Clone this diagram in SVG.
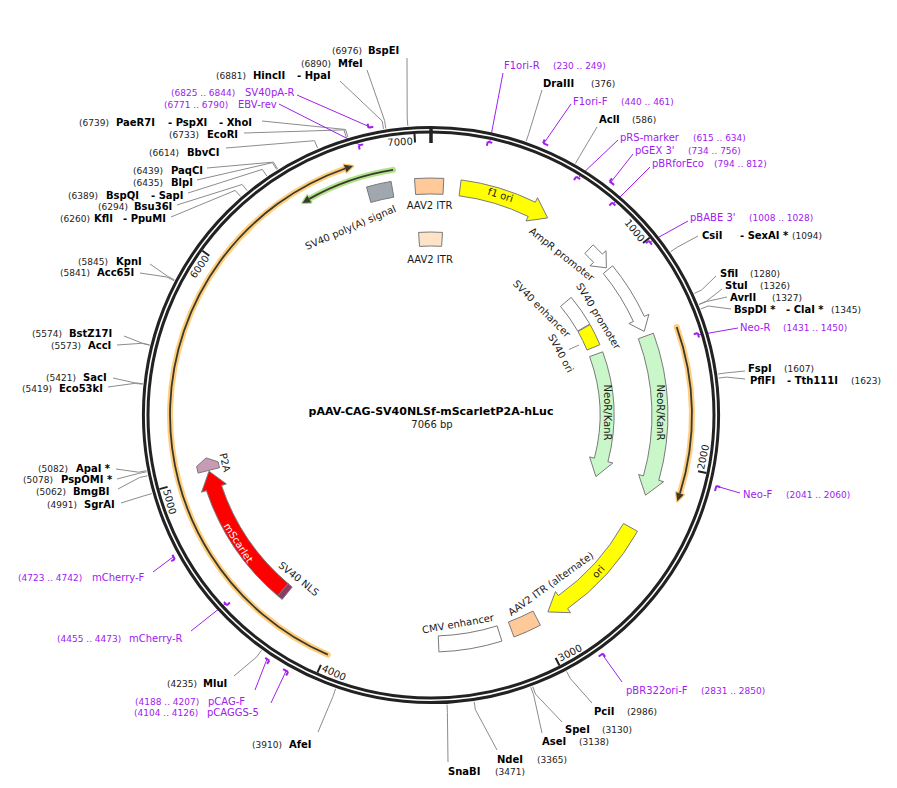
<svg xmlns="http://www.w3.org/2000/svg" width="897" height="788" viewBox="0 0 897 788">
<style>
text{font-family:"DejaVu Sans","Liberation Sans",sans-serif}
.en{font-size:10px;font-weight:bold;fill:#000}
.ps{font-size:9px;fill:#222}
.pr{font-size:10px;fill:#a020f0}
.prp{font-size:9px;fill:#a020f0}
.fl{font-size:10px;fill:#1a1a1a}
.tk{font-size:10px;fill:#1a1a1a}
.ll{fill:none;stroke:#8c8c8c;stroke-width:1}
.pl{fill:none;stroke:#a020f0;stroke-width:1}
.pm{fill:none;stroke:#a020f0;stroke-width:2}
.ft{stroke:#7a7a7a;stroke-width:1}
.glo{fill:none;stroke:#ffc96e;stroke-width:6;stroke-linecap:round;opacity:.9}
.glg{fill:none;stroke:#a8e07e;stroke-width:6;stroke-linecap:round;opacity:.9}
.core{fill:none;stroke:#3d382e;stroke-width:1.8}
</style>
<rect width="897" height="788" fill="#fff"/>
<g id="connectors">
<polyline class="ll" points="407,58 407.2,118 407.8,125.9"/>
<polyline class="ll" points="367,70 384.6,120.6 385.8,128.5"/>
<polyline class="ll" points="340,81 382.2,121 383.5,128.9"/>
<polyline class="ll" points="262,121 345.6,129.5 347.9,137.2"/>
<polyline class="ll" points="244,133 344,129.9 346.3,137.6"/>
<polyline class="ll" points="226,148 314.5,140.7 317.6,148.1"/>
<polyline class="ll" points="207,168 273.4,162.1 277.6,168.9"/>
<polyline class="ll" points="197,180 272.4,162.7 276.7,169.5"/>
<polyline class="ll" points="188,193 262.3,169.4 266.8,176"/>
<polyline class="ll" points="177,205 242.1,184.5 247.2,190.7"/>
<polyline class="ll" points="171,217 235.2,190.4 240.5,196.4"/>
<polyline class="ll" points="150,264 167.3,276.1 174.4,279.8"/>
<polyline class="ll" points="140,273 166.9,277 174,280.7"/>
<polyline class="ll" points="124,336 141.8,343 149.6,344.9"/>
<polyline class="ll" points="117,345 141.7,343.3 149.5,345.2"/>
<polyline class="ll" points="113,378 134.7,382.8 142.7,383.7"/>
<polyline class="ll" points="108,387 134.6,383.4 142.6,384.2"/>
<polyline class="ll" points="116,469 138.6,472.2 146.4,470.7"/>
<polyline class="ll" points="117,479 138.8,473.4 146.6,471.8"/>
<polyline class="ll" points="118,489 139.6,477.5 147.4,475.8"/>
<polyline class="ll" points="121,503 144.1,495.8 151.8,493.6"/>
<polyline class="ll" points="234,676 256.8,656.8 261.5,650.3"/>
<polyline class="ll" points="318,732 333,696.4 335.6,688.8"/>
<polyline class="ll" points="448,762 447.4,712.6 447,704.6"/>
<polyline class="ll" points="497,750 475.4,709.7 474.2,701.8"/>
<polyline class="ll" points="542,733 533.6,694.8 530.8,687.3"/>
<polyline class="ll" points="562,722 535.5,694.1 532.7,686.6"/>
<polyline class="ll" points="592,703 570.3,678.5 566.6,671.4"/>
<polyline class="ll" points="745,379 726.5,377.1 718.6,378.1"/>
<polyline class="ll" points="745,371 726,372.9 718.1,374"/>
<polyline class="ll" points="731,309 708.3,306 700.9,308.9"/>
<polyline class="ll" points="727,297 706.5,301.5 699.1,304.5"/>
<polyline class="ll" points="722,289 706.4,301.2 699,304.3"/>
<polyline class="ll" points="716,276 701.6,290 694.3,293.4"/>
<polyline class="ll" points="698,236 677.3,247.2 670.7,251.7"/>
<polyline class="ll" points="597,127 579.4,156.6 575.4,163.5"/>
<polyline class="ll" points="542,90 528.8,133.5 526.2,141.1"/>
<line class="pl" x1="297" y1="95" x2="370" y2="127"/>
<line class="pl" x1="279" y1="104" x2="360" y2="145"/>
<line class="pl" x1="503" y1="73" x2="490" y2="141"/>
<line class="pl" x1="571" y1="104" x2="544" y2="143"/>
<line class="pl" x1="618" y1="140" x2="579" y2="177"/>
<line class="pl" x1="633" y1="154" x2="611" y2="182"/>
<line class="pl" x1="650" y1="167" x2="614" y2="203"/>
<line class="pl" x1="688" y1="221" x2="650" y2="242"/>
<line class="pl" x1="738" y1="328" x2="698" y2="335"/>
<line class="pl" x1="740" y1="493" x2="716" y2="486"/>
<line class="pl" x1="622" y1="682" x2="602" y2="654"/>
<line class="pl" x1="271" y1="703" x2="286" y2="671"/>
<line class="pl" x1="255" y1="690" x2="267" y2="659"/>
<line class="pl" x1="191" y1="631" x2="225" y2="604"/>
<line class="pl" x1="153" y1="572" x2="173" y2="557"/>
<line class="ll" x1="569" y1="349.5" x2="579" y2="345"/>
</g>
<g id="backbone">
<circle cx="431" cy="415" r="285.3" fill="none" stroke="#222" stroke-width="7.6"/>
<circle cx="431" cy="415" r="285.3" fill="none" stroke="#fff" stroke-width="1.6"/>
<line x1="431" y1="126" x2="431" y2="143" stroke="#222" stroke-width="3.5"/>
<g stroke="#222" stroke-width="2">
<line x1="649.6" y1="237.7" x2="643" y2="243"/>
<line x1="706.4" y1="473" x2="698.1" y2="471.3"/>
<line x1="559.5" y1="665.5" x2="555.6" y2="657.9"/>
<line x1="317.4" y1="672.6" x2="320.9" y2="664.8"/>
<line x1="159.4" y1="489.1" x2="167.6" y2="486.9"/>
<line x1="202.4" y1="250.7" x2="209.3" y2="255.7"/>
<line x1="414.5" y1="134" x2="415" y2="142.5"/>
</g>
<text class="tk" text-anchor="end" transform="translate(640.1,242.6) rotate(50.95)">1000</text>
<text class="tk" transform="translate(704,470.1) rotate(-78.1)">2000</text>
<text class="tk" transform="translate(560.3,661.7) rotate(-27.16)">3000</text>
<text class="tk" transform="translate(320.9,670.8) rotate(23.79)">4000</text>
<text class="tk" transform="translate(163,490.6) rotate(74.74)">5000</text>
<text class="tk" text-anchor="end" transform="translate(209.8,258.4) rotate(-54.31)">6000</text>
<text class="tk" text-anchor="end" transform="translate(413,144.6) rotate(-3.36)">7000</text>
</g>
<g id="primer-marks">
<path class="pm" d="M487.7,141.8 L492.3,142.8 M487.7,141.8 L486.9,145.7"/>
<path class="pm" d="M543.1,143.2 L548.2,145.4 M543.1,143.2 L544.7,139.5"/>
<path class="pm" d="M576.1,176.7 L580.1,179.2 M576.1,176.7 L574,180.1"/>
<path class="pm" d="M609.6,181.4 L614.1,184.9 M609.6,181.4 L612,178.3"/>
<path class="pm" d="M612,202.6 L615.4,205.6 M612,202.6 L609.4,205.7"/>
<path class="pm" d="M648.9,240.8 L651.9,244.6 M648.9,240.8 L645.8,243.3"/>
<path class="pm" d="M697.7,333 L699,337.5 M697.7,333 L693.8,334.2"/>
<path class="pm" d="M716.3,486 L715,490.9 M716.3,486 L720.2,487"/>
<path class="pm" d="M602.9,653.5 L598.7,656.5 M602.9,653.5 L605.2,656.8"/>
<path class="pm" d="M288.1,671.9 L283.1,669.1 M288.1,671.9 L286.1,675.4"/>
<path class="pm" d="M269.3,660.5 L265.2,657.8 M269.3,660.5 L267.1,663.9"/>
<path class="pm" d="M227,605.3 L224,602 M227,605.3 L229.9,602.6"/>
<path class="pm" d="M174.8,559.2 L172.4,554.8 M174.8,559.2 L171.3,561.1"/>
<path class="pm" d="M358.7,145.5 L363.2,144.4 M358.7,145.5 L359.7,149.4"/>
<path class="pm" d="M368.5,127.7 L373.3,126.7 M368.5,127.7 L367.6,123.8"/>
</g>
<g id="orf-left">
<path class="glo" d="M327.8,654.7 A261,261 0 0 1 345.2,168.5"/>
<polygon points="343.8,164.7 353,166 346.5,172.3" fill="#3d382e" stroke="#ffc96e" stroke-width="2.5" stroke-linejoin="round"/>
<path class="core" d="M327.8,654.7 A261,261 0 0 1 345.2,168.5"/>
<polygon points="343.8,164.7 353,166 346.5,172.3" fill="#3d382e"/>
</g>
<g id="orf-right">
<path class="glo" d="M676.7,327 A261,261 0 0 1 679.9,493.5"/>
<polygon points="683.7,494.7 677.3,501.3 676.1,492.3" fill="#3d382e" stroke="#ffc96e" stroke-width="2.5" stroke-linejoin="round"/>
<path class="core" d="M676.7,327 A261,261 0 0 1 679.9,493.5"/>
<polygon points="683.7,494.7 677.3,501.3 676.1,492.3" fill="#3d382e"/>
</g>
<g id="orf-green">
<path class="glg" d="M393.1,169.9 A248,248 0 0 0 309.3,198.9"/>
<polygon points="307.3,195.5 302.5,202.9 311.2,202.4" fill="#3d382e" stroke="#a8e07e" stroke-width="2.5" stroke-linejoin="round"/>
<path class="core" d="M393.1,169.9 A248,248 0 0 0 309.3,198.9"/>
<polygon points="307.3,195.5 302.5,202.9 311.2,202.4" fill="#3d382e"/>
</g>
<g id="sv40-polya">
<path class="ft" fill="#a1a7ae" d="M366.5,187 A237,237 0 0 1 391.1,181.4 L393.8,197.2 A221,221 0 0 0 370.8,202.4 Z"/>
<text class="fl" text-anchor="middle" transform="translate(350.5,227.5) rotate(-23.4)" y="3.5">SV40 poly(A) signal</text>
</g>
<g id="aav2-itr-1">
<path class="ft" fill="#ffc999" d="M414.5,178.6 A237,237 0 0 1 443.8,178.4 L443,194.3 A221,221 0 0 0 415.6,194.5 Z"/>
<text class="fl" text-anchor="middle" x="429.5" y="208.5">AAV2 ITR</text>
</g>
<g id="aav2-itr-2">
<path class="ft" fill="#ffe3c6" d="M418.6,232.4 A183,183 0 0 1 442.5,232.4 L441.6,246.3 A169,169 0 0 0 419.5,246.4 Z"/>
<text class="fl" text-anchor="middle" x="430" y="262.5">AAV2 ITR</text>
</g>
<g id="f1-ori">
<path class="ft" fill="#ffff00" d="M461.1,179.9 A237,237 0 0 1 535.3,202.2 L537.5,197.7 L547.6,217.9 L526,221 L528.2,216.5 A221,221 0 0 0 459.1,195.8 Z"/>
<text class="fl" text-anchor="middle" transform="translate(500.5,195) rotate(17.5)" y="3.5">f1 ori</text>
</g>
<g id="ampr-promoter">
<path class="ft" fill="#fff" d="M593.1,244.8 A235,235 0 0 1 602.3,254.1 L606,250.7 L606.4,267.8 L589.9,265.8 L593.6,262.4 A223,223 0 0 0 584.8,253.5 Z"/>
<text class="fl" text-anchor="middle" transform="translate(561.7,254.2) rotate(38.5)" y="3.5">AmpR promoter</text>
</g>
<g id="sv40-promoter">
<path class="ft" fill="#fff" d="M612.6,265.8 A235,235 0 0 1 644.3,316.4 L648.9,314.3 L644.2,331.4 L628.9,323.5 L633.4,321.5 A223,223 0 0 0 603.3,273.5 Z"/>
<text class="fl" text-anchor="middle" transform="translate(598.5,316) rotate(58.5)" y="3.5">SV40 promoter</text>
</g>
<g id="sv40-enhancer">
<path class="ft" fill="#fff" d="M571.2,297.4 A183,183 0 0 1 589.8,324 L577.7,331 A169,169 0 0 0 560.5,306.4 Z"/>
<text class="fl" text-anchor="middle" transform="translate(541.7,308.7) rotate(45)" y="3.5">SV40 enhancer</text>
</g>
<g id="sv40-ori">
<path class="ft" fill="#ffff00" d="M590.1,324.6 A183,183 0 0 1 599.9,344.7 L587,350.1 A169,169 0 0 0 578,331.5 Z"/>
<text class="fl" text-anchor="middle" transform="translate(560.8,353.3) rotate(61.5)" y="3.5">SV40 ori</text>
</g>
<g id="neor-kanr-outer">
<path class="ft" fill="#c9f7c9" d="M653.4,333.2 A237,237 0 0 1 658.8,480.3 L663.6,481.7 L645.5,495.2 L638.6,474.5 L643.4,475.9 A221,221 0 0 0 638.4,338.7 Z"/>
<text class="fl" text-anchor="middle" transform="translate(660.8,412.5) rotate(90)" y="3.5">NeoR/KanR</text>
</g>
<g id="neor-kanr-inner">
<path class="ft" fill="#c9f7c9" d="M602.7,351.8 A183,183 0 0 1 607.9,461.7 L612.8,463 L595.9,476.6 L589.6,456.9 L594.4,458.2 A169,169 0 0 0 589.6,356.6 Z"/>
<text class="fl" text-anchor="middle" transform="translate(607.2,412.5) rotate(90)" y="3.5">NeoR/KanR</text>
</g>
<g id="ori">
<path class="ft" fill="#ffff00" d="M637.5,531.3 A237,237 0 0 1 567.6,608.7 L570.5,612.7 L547.9,611.9 L555.5,591.5 L558.4,595.6 A221,221 0 0 0 623.5,523.5 Z"/>
<text class="fl" text-anchor="middle" transform="translate(598.3,571.7) rotate(-48)" y="3.5">ori</text>
</g>
<g id="aav2-itr-alt">
<path class="ft" fill="#ffc999" d="M540.4,625.2 A237,237 0 0 1 514,637 L508.4,622 A221,221 0 0 0 533,611 Z"/>
<text class="fl" text-anchor="middle" transform="translate(550.8,583.8) rotate(-35.5)" y="3.5">AAV2 ITR (alternate)</text>
</g>
<g id="cmv-enhancer">
<path class="ft" fill="#fff" d="M501.9,641.1 A237,237 0 0 1 438.9,651.9 L438.3,635.9 A221,221 0 0 0 497.1,625.9 Z"/>
<text class="fl" text-anchor="middle" transform="translate(458,623.7) rotate(-10)" y="3.5">CMV enhancer</text>
</g>
<g id="mscarlet">
<path class="ft" fill="#ff0000" d="M277.7,595.8 A237,237 0 0 1 206.4,490.6 L201.6,492.2 L209,471.2 L226.3,483.9 L221.5,485.5 A221,221 0 0 0 288.1,583.6 Z"/>
<text class="fl" fill="#fff" style="fill:#fff" text-anchor="middle" transform="translate(238.3,542.8) rotate(57)" y="3.5">mScarlet</text>
</g>
<g id="sv40-nls">
<path class="ft" fill="#8e3a66" d="M282.2,599.4 A237,237 0 0 1 277.7,595.8 L288.1,583.6 A221,221 0 0 0 292.2,587 Z"/>
<text class="fl" text-anchor="middle" transform="translate(298.8,578.8) rotate(38.5)" y="3.5">SV40 NLS</text>
</g>
<g id="p2a">
<path class="ft" fill="#c99ab3" d="M198.1,473.1 L196.6,466.5 L206.1,457.9 L218.1,461.8 L219.5,467.7 Z"/>
<text class="fl" text-anchor="middle" transform="translate(225,462.5) rotate(77)" y="3.5">P2A</text>
</g>
<g id="title">
<text x="431" y="415" text-anchor="middle" style="font-size:11px;font-weight:bold;fill:#000">pAAV-CAG-SV40NLSf-mScarletP2A-hLuc</text>
<text x="432" y="427.5" text-anchor="middle" style="font-size:10px;fill:#1a1a1a">7066 bp</text>
</g>
<g id="site-BspEI"><text class="ps" x="332" y="54">(6976)</text><text class="en" x="368" y="54">BspEI</text></g>
<g id="site-MfeI"><text class="ps" x="301" y="67">(6890)</text><text class="en" x="338" y="67">MfeI</text></g>
<g id="site-HincII"><text class="ps" x="216" y="78.5">(6881)</text><text class="en" x="253" y="78.5">HincII</text><text class="en" x="297" y="78.5">- HpaI</text></g>
<g id="primer-SV40pA-R"><text class="prp" x="171" y="96">(6825 .. 6844)</text><text class="pr" x="245" y="96">SV40pA-R</text></g>
<g id="primer-EBV-rev"><text class="prp" x="164" y="108">(6771 .. 6790)</text><text class="pr" x="238" y="108">EBV-rev</text></g>
<g id="site-PaeR7I"><text class="ps" x="79" y="126">(6739)</text><text class="en" x="116" y="126">PaeR7I</text><text class="en" x="168" y="126">- PspXI</text><text class="en" x="219" y="126">- XhoI</text></g>
<g id="site-EcoRI"><text class="ps" x="169" y="138">(6733)</text><text class="en" x="207" y="138">EcoRI</text></g>
<g id="site-BbvCI"><text class="ps" x="149" y="155.5">(6614)</text><text class="en" x="187" y="155.5">BbvCI</text></g>
<g id="site-PaqCI"><text class="ps" x="133" y="173.5">(6439)</text><text class="en" x="171" y="173.5">PaqCI</text></g>
<g id="site-BlpI"><text class="ps" x="133" y="186">(6435)</text><text class="en" x="171" y="186">BlpI</text></g>
<g id="site-BspQI"><text class="ps" x="68" y="198.5">(6389)</text><text class="en" x="106" y="198.5">BspQI</text><text class="en" x="151" y="198.5">- SapI</text></g>
<g id="site-Bsu36I"><text class="ps" x="98" y="209.5">(6294)</text><text class="en" x="134" y="209.5">Bsu36I</text></g>
<g id="site-KflI"><text class="ps" x="60" y="222">(6260)</text><text class="en" x="94" y="222">KflI</text><text class="en" x="123" y="222">- PpuMI</text></g>
<g id="site-KpnI"><text class="ps" x="78" y="265">(5845)</text><text class="en" x="116" y="265">KpnI</text></g>
<g id="site-Acc65I"><text class="ps" x="60" y="276">(5841)</text><text class="en" x="97" y="276">Acc65I</text></g>
<g id="site-BstZ17I"><text class="ps" x="32" y="337">(5574)</text><text class="en" x="69" y="337">BstZ17I</text></g>
<g id="site-AccI"><text class="ps" x="51" y="349">(5573)</text><text class="en" x="88" y="349">AccI</text></g>
<g id="site-SacI"><text class="ps" x="46" y="381">(5421)</text><text class="en" x="83" y="381">SacI</text></g>
<g id="site-Eco53kI"><text class="ps" x="22" y="392">(5419)</text><text class="en" x="59" y="392">Eco53kI</text></g>
<g id="site-ApaI"><text class="ps" x="38" y="472">(5082)</text><text class="en" x="76" y="472">ApaI *</text></g>
<g id="site-PspOMI"><text class="ps" x="23" y="483">(5078)</text><text class="en" x="61" y="483">PspOMI *</text></g>
<g id="site-BmgBI"><text class="ps" x="36" y="495">(5062)</text><text class="en" x="73" y="495">BmgBI</text></g>
<g id="site-SgrAI"><text class="ps" x="47" y="507.5">(4991)</text><text class="en" x="84" y="507.5">SgrAI</text></g>
<g id="primer-mCherry-F"><text class="prp" x="18" y="581">(4723 .. 4742)</text><text class="pr" x="92" y="581">mCherry-F</text></g>
<g id="primer-mCherry-R"><text class="prp" x="57" y="642">(4455 .. 4473)</text><text class="pr" x="129" y="642">mCherry-R</text></g>
<g id="site-MluI"><text class="ps" x="167" y="687">(4235)</text><text class="en" x="203" y="687">MluI</text></g>
<g id="primer-pCAG-F"><text class="prp" x="135" y="705">(4188 .. 4207)</text><text class="pr" x="208" y="705">pCAG-F</text></g>
<g id="primer-pCAGGS-5"><text class="prp" x="134" y="716">(4104 .. 4126)</text><text class="pr" x="207" y="716">pCAGGS-5</text></g>
<g id="site-AfeI"><text class="ps" x="252" y="748">(3910)</text><text class="en" x="289" y="748">AfeI</text></g>
<g id="site-SnaBI"><text class="en" x="448" y="775">SnaBI</text><text class="ps" x="495" y="775">(3471)</text></g>
<g id="site-NdeI"><text class="en" x="497" y="763">NdeI</text><text class="ps" x="537" y="763">(3365)</text></g>
<g id="site-AseI"><text class="en" x="542" y="745">AseI</text><text class="ps" x="579" y="745">(3138)</text></g>
<g id="site-SpeI"><text class="en" x="565" y="733">SpeI</text><text class="ps" x="602" y="733">(3130)</text></g>
<g id="site-PciI"><text class="en" x="594" y="715">PciI</text><text class="ps" x="627" y="715">(2986)</text></g>
<g id="primer-pBR322ori-F"><text class="pr" x="626" y="694">pBR322ori-F</text><text class="prp" x="701" y="694">(2831 .. 2850)</text></g>
<g id="primer-Neo-F"><text class="pr" x="743" y="498">Neo-F</text><text class="prp" x="786" y="498">(2041 .. 2060)</text></g>
<g id="site-PflFI"><text class="en" x="750" y="384">PflFI</text><text class="en" x="787" y="384">- Tth111I</text><text class="ps" x="851" y="384">(1623)</text></g>
<g id="site-FspI"><text class="en" x="748" y="372">FspI</text><text class="ps" x="784" y="372">(1607)</text></g>
<g id="primer-Neo-R"><text class="pr" x="740" y="331">Neo-R</text><text class="prp" x="783" y="331">(1431 .. 1450)</text></g>
<g id="site-BspDI"><text class="en" x="734" y="313">BspDI *</text><text class="en" x="786" y="313">- ClaI *</text><text class="ps" x="831" y="313">(1345)</text></g>
<g id="site-AvrII"><text class="en" x="730" y="301">AvrII</text><text class="ps" x="772" y="301">(1327)</text></g>
<g id="site-StuI"><text class="en" x="725" y="289">StuI</text><text class="ps" x="760" y="289">(1326)</text></g>
<g id="site-SfiI"><text class="en" x="720" y="277">SfiI</text><text class="ps" x="750" y="277">(1280)</text></g>
<g id="site-CsiI"><text class="en" x="702" y="239">CsiI</text><text class="en" x="740" y="239">- SexAI *</text><text class="ps" x="792" y="239">(1094)</text></g>
<g id="primer-pBABE3"><text class="pr" x="690" y="221">pBABE 3'</text><text class="prp" x="749" y="221">(1008 .. 1028)</text></g>
<g id="primer-pBRforEco"><text class="pr" x="652" y="167">pBRforEco</text><text class="prp" x="714" y="167">(794 .. 812)</text></g>
<g id="primer-pGEX3"><text class="pr" x="635" y="154">pGEX 3'</text><text class="prp" x="688" y="154">(734 .. 756)</text></g>
<g id="primer-pRS-marker"><text class="pr" x="620" y="141">pRS-marker</text><text class="prp" x="693" y="141">(615 .. 634)</text></g>
<g id="site-AclI"><text class="en" x="599" y="123">AclI</text><text class="ps" x="632" y="123">(586)</text></g>
<g id="primer-F1ori-F"><text class="pr" x="573" y="105">F1ori-F</text><text class="prp" x="621" y="105">(440 .. 461)</text></g>
<g id="site-DraIII"><text class="en" x="543" y="87">DraIII</text><text class="ps" x="591" y="87">(376)</text></g>
<g id="primer-F1ori-R"><text class="pr" x="504" y="69">F1ori-R</text><text class="prp" x="553" y="69">(230 .. 249)</text></g>
</svg>
